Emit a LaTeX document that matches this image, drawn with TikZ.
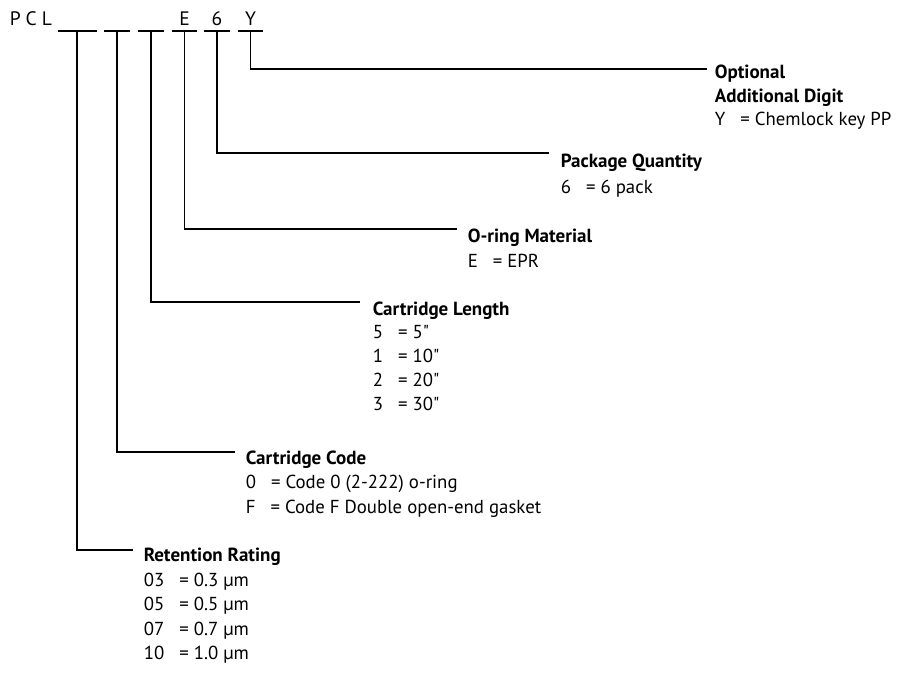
\documentclass[tikz,border=0pt]{standalone}
\usepackage{fontspec}
\setmainfont{PT Sans}[Ligatures=TeXOff]
\newcommand\kvrow[2]{#1\hspace{15pt}= #2}
\begin{document}
\begin{tikzpicture}[x=1pt,y=-1pt,line width=1.6pt,
  head/.style={anchor=base west,inner sep=0pt,font=\bfseries\fontsize{19}{19}\selectfont},
  row/.style={anchor=base west,inner sep=0pt,font=\fontsize{18.8}{18.8}\selectfont},
  code/.style={anchor=base,inner sep=0pt,font=\fontsize{19.5}{19.5}\selectfont}]
\useasboundingbox (0,0) rectangle (899,675);
% header
\node[code,anchor=base west] (pcl) at (9,25) {P\hspace{5pt}C\hspace{5pt}L};
\node[code] (lE) at (184.5,25) {E};
\node[code] (l6) at (217,25) {6};
\node[code] (lY) at (250.5,25) {Y};
% bar segments
\draw (58,31) -- (97,31);
\draw (104,31) -- (130,31);
\draw (138,31) -- (164,31);
\draw (172,31) -- (197,31);
\draw (204,31) -- (230,31);
\draw (238,31) -- (263,31);
% tops of verticals
\coordinate (v1) at (77,31);
\coordinate (v2) at (117,31);
\coordinate (v3) at (151,31);
\coordinate (v4) at (184.5,31);
\coordinate (v5) at (217,31);
\coordinate (v6) at (250.5,31);
% line ends
\coordinate (e6) at (707,69);
\coordinate (e5) at (549,153);
\coordinate (e4) at (457,229);
\coordinate (e3) at (360,302);
\coordinate (e2) at (235,452);
\coordinate (e1) at (133,550);
\draw (v6) |- (e6);
\draw (v5) |- (e5);
\draw (v4) |- (e4);
\draw (v3) |- (e3);
\draw (v2) |- (e2);
\draw (v1) |- (e1);
% Optional
\node[head] (h6a) at (714,78) {Optional};
\node[head] (h6b) at (714,102) {Additional Digit};
\node[row] (r6a) at (714,125) {\kvrow{Y}{Chemlock key PP}};
% Package
\node[head] (h5) at (560,167) {Package Quantity};
\node[row] (r5a) at (560,193) {\kvrow{6}{6 pack}};
% O-ring
\node[head] (h4) at (467,242) {O-ring Material};
\node[row] (r4a) at (467,267) {\kvrow{E}{EPR}};
% Length
\node[head] (h3) at (372,315) {Cartridge Length};
\node[row] (r3a) at (372,338) {\kvrow{5}{5"}};
\node[row] (r3b) at (372,362) {\kvrow{1}{10"}};
\node[row] (r3c) at (372,386) {\kvrow{2}{20"}};
\node[row] (r3d) at (372,410) {\kvrow{3}{30"}};
% Code
\node[head] (h2) at (245,464) {Cartridge Code};
\node[row] (r2a) at (245,488) {\kvrow{0}{Code 0 (2-222) o-ring}};
\node[row] (r2b) at (245,513) {\kvrow{F}{Code F Double open-end gasket}};
% Retention
\node[head] (h1) at (143,561) {Retention Rating};
\node[row] (r1a) at (143,586) {\kvrow{03}{0.3 µm}};
\node[row] (r1b) at (143,610) {\kvrow{05}{0.5 µm}};
\node[row] (r1c) at (143,635) {\kvrow{07}{0.7 µm}};
\node[row] (r1d) at (143,659) {\kvrow{10}{1.0 µm}};
\end{tikzpicture}
\end{document}
